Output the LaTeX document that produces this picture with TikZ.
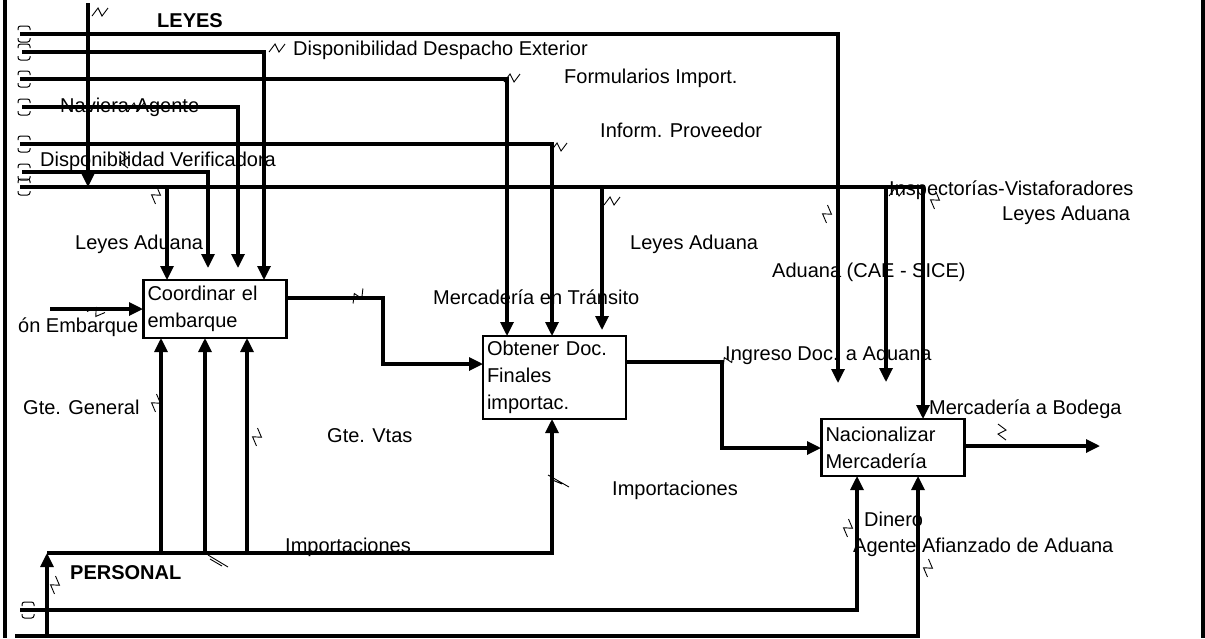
\documentclass[tikz,border=0pt]{standalone}
\usepackage{fontspec}
\setmainfont{Liberation Sans}
\usetikzlibrary{arrows.meta}
\begin{document}
\begin{tikzpicture}[x=1pt,y=-1pt,
 flow/.style={line width=3.2pt, -{Triangle[length=14pt,width=13pt]}},
 wire/.style={line width=3.2pt},
 frame/.style={line width=3.2pt},
 box/.style={draw, line width=2.6pt, inner sep=4pt, text width=135pt, align=left, font=\fontsize{20}{27}\selectfont},
 lab/.style={inner sep=0pt, anchor=base west, font=\fontsize{20}{24}\selectfont},
 blab/.style={inner sep=0pt, anchor=base west, font=\fontsize{20}{24}\selectfont\bfseries},
 squig/.pic={\draw[line width=0.9pt] (-8,4) -- (-2,-4) -- (2,4) -- (8,-4);},
 tun/.pic={\draw[line width=1pt, rounded corners=2.5pt] (-6,-4) -- (-6,-8) -- (6,-8) -- (6,-4);
           \draw[line width=1pt, rounded corners=2.5pt] (-6,4) -- (-6,8) -- (6,8) -- (6,4);}
]
\useasboundingbox (0,0) rectangle (1205,638);

% frame
\coordinate (fl0) at (5,0);   \coordinate (fl1) at (5,638);
\coordinate (fr0) at (1203,0); \coordinate (fr1) at (1203,638);
\draw[frame] (fl0) -- (fl1);
\draw[frame] (fr0) -- (fr1);

% activity boxes
\node[box, minimum height=58pt] (coord) at (215,309) {Coordinar el\\embarque};
\node[box, minimum height=83pt] (obt) at (554.5,377.5) {Obtener Doc.\\Finales\\importac.};
\node[box, minimum height=57pt] (nac) at (893,447.5) {Nacionalizar\\Mercader\'ia};

% coordinates
\coordinate (ly0) at (88,3);   \coordinate (ly1) at (88,187);
\coordinate (a0) at (20,34);   \coordinate (a1) at (838,383);
\coordinate (b0) at (22,52);   \coordinate (b1) at (264,280);
\coordinate (c0) at (20,79);   \coordinate (c1) at (507,336);
\coordinate (d0) at (22,107);  \coordinate (d1) at (238,268);
\coordinate (e0) at (20,144);  \coordinate (e1) at (552,336);
\coordinate (f0) at (22,172);  \coordinate (f1) at (208,268);
\coordinate (g0) at (20,187);  \coordinate (g1) at (923,419);
\coordinate (g2) at (167,187); \coordinate (g3) at (167,280);
\coordinate (g4) at (602,187); \coordinate (g5) at (602,330);
\coordinate (g6) at (886,187); \coordinate (g7) at (886,382);
\coordinate (in0) at (50,309);  \coordinate (in1) at (143,309);
\coordinate (o1a) at (287,298); \coordinate (o1b) at (383,298); \coordinate (o1c) at (483,364);
\coordinate (o2a) at (626,362); \coordinate (o2b) at (722,362); \coordinate (o2c) at (821,448);
\coordinate (o3a) at (965,446); \coordinate (o3b) at (1100,446);
\coordinate (p0) at (47,638);  \coordinate (p1) at (47,553);
\coordinate (p2) at (552,419);
\coordinate (p3) at (161,553); \coordinate (p4) at (161,338);
\coordinate (p5) at (205,553); \coordinate (p6) at (205,338);
\coordinate (p7) at (247,553); \coordinate (p8) at (247,338);
\coordinate (h0) at (20,610);  \coordinate (h1) at (857,476);
\coordinate (i0) at (15,636);  \coordinate (i1) at (918,476);

% controls
\draw[flow] (ly0) -- (ly1);
\draw[flow] (a0) -| (a1);
\draw[flow] (b0) -| (b1);
\draw[flow] (c0) -| (c1);
\draw[flow] (d0) -| (d1);
\draw[flow] (e0) -| (e1);
\draw[flow] (f0) -| (f1);
\draw[flow] (g0) -| (g1);
\draw[flow] (g2) -- (g3);
\draw[flow] (g4) -- (g5);
\draw[flow] (g6) -- (g7);

% inputs / outputs
\draw[flow] (in0) -- (in1);
\draw[flow] (o1a) -- (o1b) |- (o1c);
\draw[flow] (o2a) -- (o2b) |- (o2c);
\draw[flow] (o3a) -- (o3b);

% mechanisms
\draw[flow] (p0) -- (p1);
\draw[flow] (p1) -| (p2);
\draw[flow] (p3) -- (p4);
\draw[flow] (p5) -- (p6);
\draw[flow] (p7) -- (p8);
\draw[flow] (h0) -| (h1);
\draw[flow] (i0) -| (i1);

% tunnels at line starts
\foreach \yy in {34,52,79,107,144,172,187} { \pic at (24,\yy) {tun}; }
\pic at (28,610) {tun};

% squiggles
\pic at (100,12) {squig};
\pic at (277,48) {squig};
\pic at (136,107) {squig};
\pic[rotate=90] at (124,160) {squig};
\pic[rotate=60] at (156,195) {squig};
\pic[rotate=-30] at (96,312) {squig};
\pic at (512,78) {squig};
\pic at (559,147) {squig};
\pic at (612,201) {squig};
\pic[rotate=30] at (358,296) {squig};
\pic[rotate=60] at (827,214) {squig};
\pic at (897,192) {squig};
\pic[rotate=60] at (935,200) {squig};
\pic[rotate=30] at (728,360) {squig};
\pic[rotate=-90] at (1002,432) {squig};
\pic[rotate=60] at (156,403) {squig};
\pic[rotate=60] at (257,437) {squig};
\draw[line width=0.9pt] (208,555) -- (228,567) (210,559) -- (222,566);
\pic[rotate=60] at (55,585) {squig};
\draw[line width=0.9pt] (548,475) -- (569,487) (550,479) -- (562,484);
\pic[rotate=60] at (848,528) {squig};
\pic[rotate=60] at (928,568) {squig};

% labels
\node[blab] (tLeyes) at (157,27) {LEYES};
\node[lab] (tDDE) at (293,55) {Disponibilidad Despacho Exterior};
\node[lab] (tForm) at (564,83) {Formularios Import.};
\node[lab] (tNav) at (60,112) {Naviera-Agente};
\node[lab] (tInf) at (600,137) {Inform. Proveedor};
\node[lab] (tDV) at (40,166) {Disponibilidad Verificadora};
\node[lab] (tLA1) at (75,249) {Leyes Aduana};
\node[lab] (tLA2) at (630,249) {Leyes Aduana};
\node[lab] (tIV) at (889,195) {Inspector\'ias-Vistaforadores};
\node[lab] (tLA3) at (1002,220) {Leyes Aduana};
\node[lab] (tCAE) at (772,277) {Aduana (CAE - SICE)};
\node[lab] (tMT) at (433,304) {Mercader\'ia en Tr\'ansito};
\node[lab] (tEmb) at (18,332) {\'on Embarque};
\node[lab] (tIDA) at (725,360) {Ingreso Doc. a Aduana};
\node[lab] (tMB) at (929,414) {Mercader\'ia a Bodega};
\node[lab] (tGG) at (23,414) {Gte. General};
\node[lab] (tGV) at (327,442) {Gte. Vtas};
\node[lab] (tImp1) at (612,495) {Importaciones};
\node[lab] (tDin) at (864,526) {Dinero};
\node[lab] (tAAA) at (853,552) {Agente Afianzado de Aduana};
\node[lab] (tImp2) at (285,552) {Importaciones};
\node[blab] (tPers) at (70,579) {PERSONAL};
\end{tikzpicture}
\end{document}
